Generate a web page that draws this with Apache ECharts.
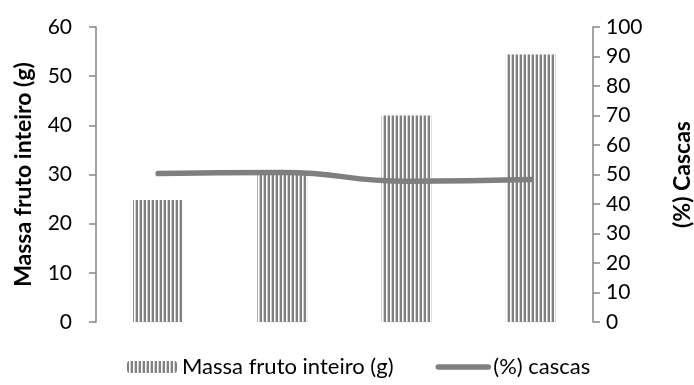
<!DOCTYPE html>
<html>
<head>
<meta charset="utf-8">
<script src="https://cdn.jsdelivr.net/npm/echarts@6/dist/echarts.min.js"></script>
<style>
  html, body { margin: 0; padding: 0; background: #fff; }
  #chart { width: 694px; height: 385px; }
</style>
</head>
<body>
<div id="chart"></div>
<script>
// Sample groups along the x axis (unlabelled)
const categories = ['1', '2', '3', '4'];
// Whole-fruit mass (g), left axis
const massaFruto = [24.8, 30.1, 42.0, 54.4];
// Peel share (%), right axis
const cascas = [50.3, 50.7, 47.7, 48.3];

const FONT = 'Lato, "Liberation Sans", sans-serif';
const GREY = '#7f7f7f';
const AXIS_GREY = '#868686';

// Vertical-stripe fill for the bars
function stripePattern() {
  const c = document.createElement('canvas');
  c.width = 4; c.height = 4;
  const g = c.getContext('2d');
  g.fillStyle = '#ffffff'; g.fillRect(0, 0, 4, 4);
  g.fillStyle = '#808080'; g.fillRect(0, 0, 2, 4);
  g.fillStyle = '#cfcfcf'; g.fillRect(3, 0, 1, 4);
  return c;
}
const stripes = { image: stripePattern(), repeat: 'repeat' };

const chart = echarts.init(document.getElementById('chart'), null, { renderer: 'canvas' });

chart.setOption({
  animation: false,
  backgroundColor: '#ffffff',
  grid: { left: 96, right: 101, top: 27, bottom: 63, containLabel: false, outerBoundsMode: 'none' },
  legend: {
    top: 351,
    left: 122,
    itemGap: 42,
    itemWidth: 50,
    itemHeight: 12,
    textStyle: { fontFamily: FONT, fontSize: 22, color: '#000' },
    data: [
      { name: 'Massa fruto inteiro (g)', itemStyle: { color: stripes } },
      {
        name: '(%) cascas',
        itemStyle: { opacity: 0 },
        lineStyle: { width: 5.5, color: GREY, cap: 'round' }
      }
    ]
  },
  xAxis: {
    type: 'category',
    data: categories,
    axisLine: { show: false },
    axisTick: { show: false },
    axisLabel: { show: false }
  },
  yAxis: [
    {
      type: 'value',
      min: 0, max: 60, interval: 10,
      name: 'Massa fruto inteiro (g)',
      nameLocation: 'middle',
      nameRotate: 90,
      nameGap: 61,
      nameTextStyle: { fontFamily: FONT, fontSize: 23, fontWeight: 'bold', color: '#000' },
      axisLine: { show: true, lineStyle: { color: AXIS_GREY, width: 1.5 } },
      axisTick: { show: true, inside: false, length: 7, lineStyle: { color: AXIS_GREY, width: 1.5 } },
      axisLabel: { margin: 24, fontFamily: FONT, fontSize: 21, color: '#000' },
      splitLine: { show: false }
    },
    {
      type: 'value',
      min: 0, max: 100, interval: 10,
      name: '(%) Cascas',
      nameLocation: 'middle',
      nameRotate: 90,
      nameGap: 78,
      nameTextStyle: { fontFamily: FONT, fontSize: 23, fontWeight: 'bold', color: '#000' },
      axisLine: { show: true, lineStyle: { color: AXIS_GREY, width: 1.5 } },
      axisTick: { show: true, inside: false, length: 7, lineStyle: { color: AXIS_GREY, width: 1.5 } },
      axisLabel: { margin: 13, fontFamily: FONT, fontSize: 21, color: '#000' },
      splitLine: { show: false }
    }
  ],
  series: [
    {
      name: 'Massa fruto inteiro (g)',
      type: 'bar',
      yAxisIndex: 0,
      barWidth: 50,
      data: massaFruto,
      itemStyle: { color: stripes },
      z: 2
    },
    {
      name: '(%) cascas',
      type: 'line',
      yAxisIndex: 1,
      data: cascas,
      smooth: true,
      symbol: 'none',
      lineStyle: { color: GREY, width: 5.5, cap: 'round' },
      itemStyle: { color: GREY },
      z: 3
    }
  ]
});
</script>
</body>
</html>
